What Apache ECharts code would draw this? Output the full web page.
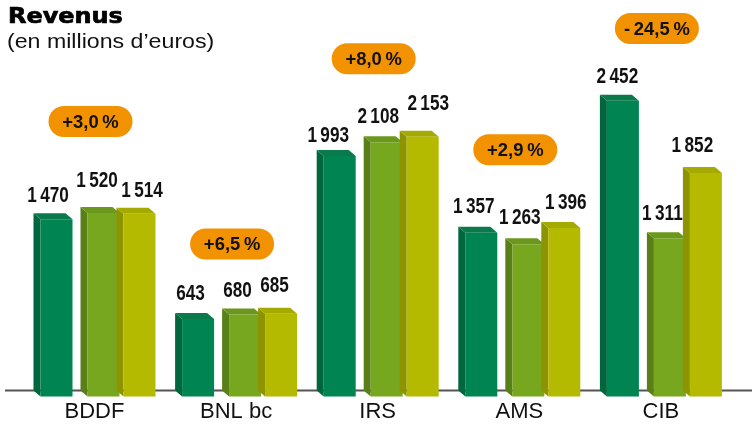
<!DOCTYPE html>
<html>
<head>
<meta charset="utf-8">
<script src="https://cdn.jsdelivr.net/npm/echarts@6/dist/echarts.min.js"></script>
<style>
  html, body { margin: 0; padding: 0; background: #fff; }
  #app { width: 752px; height: 430px; }
</style>
</head>
<body>
<div id="app"></div>
<script>
// data
var categories = ['BDDF', 'BNL bc', 'IRS', 'AMS', 'CIB'];
var revenusP1 = [1470, 643, 1993, 1357, 2452];
var revenusP2 = [1520, 680, 2108, 1263, 1311];
var revenusP3 = [1514, 685, 2153, 1396, 1852];
var growth = [3.0, 6.5, 8.0, 2.9, -24.5];

// layout only: where the orange badges sit (value units), and hand nudges [dx, dy] of value labels
var badgeLevel = [2230, 1215, 2750, 1995, 3000];
var labelNudge = [
  [[-1, 1], [0, -1], [-4, 4], [0, -2], [2, 0]],
  [[1, -8], [0, 0], [-1, -1], [-1, -2], [0, 0]],
  [[10, 1], [1, -4], [13, -9], [9, -1], [-6, -3]]
];

var SANS = "'Liberation Sans', Arial, sans-serif";
var FRONT_W = 32, DX = 7, DY = 6;
var slotShift = [-38, 9, 45];
var BADGE_SHIFT = -4;
var palettes = [
  { front: '#008451', side: '#00663d', top: '#0a7a4b' },
  { front: '#77a61f', side: '#587f18', top: '#6b981c' },
  { front: '#b4ba00', side: '#8e9300', top: '#a4aa00' }
];

function fmtInt(v) {
  return String(v).replace(/\B(?=(\d{3})+(?!\d))/g, '\u2009');
}
function fmtPct(g) {
  var s = Math.abs(g).toFixed(1).replace('.', ',') + '\u2009%';
  return g < 0 ? '-\u2009' + s : '+' + s;
}

// squeezed bold text, stands in for the condensed face of the original
function narrowText(str, x, y, size, squeeze, vAlign) {
  return {
    type: 'text', x: x, y: y, scaleX: squeeze, z2: 50,
    style: {
      text: str, x: 0, y: 0, align: 'center', verticalAlign: vAlign,
      fontFamily: SANS, fontWeight: 'bold', fontSize: size, fill: '#111'
    }
  };
}

function barItem(slot) {
  var pal = palettes[slot];
  return function (params, api) {
    var i = api.value(0);
    var base = api.coord([i, 0]);
    var top = api.coord([i, api.value(1)]);
    var cx = base[0] + slotShift[slot];
    var fl = cx - FRONT_W / 2, fr = cx + FRONT_W / 2;
    var bt = top[1], bb = base[1];
    var ft = bt + DY, fb = bb + DY;
    var nd = labelNudge[slot][i];
    return {
      type: 'group',
      children: [
        { type: 'polygon', shape: { points: [[fl - DX, bt], [fl, ft], [fl, fb], [fl - DX, bb]] }, style: { fill: pal.side } },
        { type: 'polygon', shape: { points: [[fl - DX, bt], [fr - DX, bt], [fr, ft], [fl, ft]] }, style: { fill: pal.top } },
        { type: 'rect', shape: { x: fl, y: ft, width: FRONT_W, height: fb - ft }, style: { fill: pal.front } },
        narrowText(fmtInt(api.value(1)), cx - DX / 2 - 4 + nd[0], bt - 7 + nd[1], 22, 0.78, 'bottom')
      ]
    };
  };
}

function badgeItem(params, api) {
  var p = api.coord([api.value(0), api.value(1)]);
  var x = p[0] + BADGE_SHIFT;
  return {
    type: 'group',
    children: [
      { type: 'rect', shape: { x: x - 42, y: p[1] - 15.5, width: 84, height: 31, r: 15.5 }, style: { fill: '#f39200' } },
      narrowText(fmtPct(api.value(2)), x, p[1] + 1, 19, 0.97, 'middle')
    ]
  };
}

function pairs(arr) {
  return arr.map(function (v, i) { return [i, v]; });
}

var chart = echarts.init(document.getElementById('app'), null, { renderer: 'canvas' });

chart.setOption({
  animation: false,
  backgroundColor: '#fff',
  grid: { left: 23.7, right: 20.3, top: 16.5, bottom: 39.5 },
  xAxis: {
    type: 'category',
    data: categories,
    axisLine: { show: false },
    axisTick: { show: false },
    axisLabel: { margin: 10, fontSize: 22, color: '#111', fontFamily: SANS }
  },
  yAxis: { type: 'value', min: 0, max: 3100, show: false },
  graphic: [
    {
      type: 'line', z: 0,
      shape: { x1: 5, y1: 390.5, x2: 752, y2: 390.5 },
      style: { stroke: '#555', lineWidth: 2 }
    },
    {
      type: 'text', x: 8, y: 7, scaleX: 1.14,
      style: {
        text: 'Revenus', fontFamily: 'DejaVu Sans', fontWeight: 'bold', fontSize: 21,
        fill: '#000', stroke: '#000', lineWidth: 0.7
      }
    },
    {
      type: 'text', x: 7, y: 32, scaleX: 1.13,
      style: { text: '(en millions d\u2019euros)', fontFamily: SANS, fontSize: 20.5, fill: '#111' }
    }
  ],
  series: [
    { type: 'custom', name: 'p1', data: pairs(revenusP1), renderItem: barItem(0) },
    { type: 'custom', name: 'p2', data: pairs(revenusP2), renderItem: barItem(1) },
    { type: 'custom', name: 'p3', data: pairs(revenusP3), renderItem: barItem(2) },
    {
      type: 'custom', name: 'growth', z: 6,
      data: categories.map(function (c, i) { return [i, badgeLevel[i], growth[i]]; }),
      renderItem: badgeItem
    }
  ]
});
</script>
</body>
</html>
